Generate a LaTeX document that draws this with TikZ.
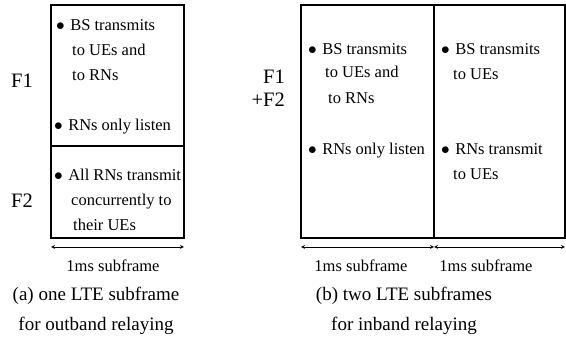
\documentclass[tikz,border=0pt]{standalone}
\usepackage{fontspec}
\setmainfont{Liberation Serif}
\usetikzlibrary{arrows}

\newcommand{\bodyfont}{\fontsize{16.5}{20}\selectfont}
\newcommand{\capfont}{\fontsize{19}{22}\selectfont}
\newcommand{\ffont}{\fontsize{20.5}{24}\selectfont}
\newcommand{\itm}{$\bullet$\hspace{0.33em}}

\tikzset{
    txt/.style={font=\bodyfont, inner sep=0pt, anchor=base west},
    lbl/.style={font=\bodyfont, inner sep=0pt, anchor=base},
    captxt/.style={font=\capfont, inner sep=0pt, anchor=base},
    frq/.style={font=\ffont, inner sep=0pt},
    frame/.style={line width=1.2pt},
    span/.style={<->, line width=0.8pt}
}

\begin{document}
\begin{tikzpicture}[>=stealth, x=1pt, y=-1pt]
    \useasboundingbox (0,0) rectangle (566,339);

    % Outband: one subframe, F1 above F2
    \coordinate (lnw) at (51,5);
    \coordinate (lse) at (184,238);
    \coordinate (lmw) at (51,146);
    \coordinate (lme) at (184,146);
    \draw[frame] (lnw) rectangle (lse);
    \draw[frame] (lmw) -- (lme);

    \node[frq] (lf1) at (22,81) {F1};
    \node[frq] (lf2) at (22,201) {F2};

    \node[txt] (la1) at (56,31) {\itm BS transmits};
    \node[txt] (la2) at (72,56) {to UEs and};
    \node[txt] (la3) at (72,81) {to RNs};
    \node[txt] (la4) at (54,131) {\itm RNs only listen};
    \node[txt] (lb1) at (54,181) {\itm All RNs transmit};
    \node[txt] (lb2) at (71,206) {concurrently to};
    \node[txt] (lb3) at (73,231) {their UEs};

    % Time span of the subframe
    \coordinate (lt0) at (51,247);
    \coordinate (lt1) at (184,247);
    \draw[span] (lt0) -- (lt1);
    \node[lbl] (lms) at (113,272) {1ms subframe};

    \node[captxt] (lcap1) at (96,301) {(a) one LTE subframe};
    \node[captxt] (lcap2) at (96,331) {for outband relaying};

    % Inband: two subframes, F1+F2
    \coordinate (rnw) at (301,5);
    \coordinate (rse) at (565,238);
    \coordinate (rmn) at (434,5);
    \coordinate (rms) at (434,238);
    \draw[frame] (rnw) rectangle (rse);
    \draw[frame] (rmn) -- (rms);

    \node[frq, anchor=east] (rf1) at (285,77) {F1};
    \node[frq, anchor=east] (rf2) at (285,100) {+F2};

    \node[txt] (ra1) at (308,55) {\itm BS transmits};
    \node[txt] (ra2) at (325,78) {to UEs and};
    \node[txt] (ra3) at (328,104) {to RNs};
    \node[txt] (ra4) at (308,155) {\itm RNs only listen};

    \node[txt] (rb1) at (441,55) {\itm BS transmits};
    \node[txt] (rb2) at (453,80) {to UEs};
    \node[txt] (rb3) at (441,155) {\itm RNs transmit};
    \node[txt] (rb4) at (453,180) {to UEs};

    % Time spans of the two subframes
    \coordinate (rt0) at (301,247);
    \coordinate (rt1) at (434,247);
    \coordinate (rt2) at (565,247);
    \draw[span] (rt0) -- (rt1);
    \draw[span] (rt1) -- (rt2);
    \node[lbl] (rms1) at (361,272) {1ms subframe};
    \node[lbl] (rms2) at (486,272) {1ms subframe};

    \node[captxt] (rcap1) at (404,301) {(b) two LTE subframes};
    \node[captxt] (rcap2) at (404,331) {for inband relaying};
\end{tikzpicture}
\end{document}
